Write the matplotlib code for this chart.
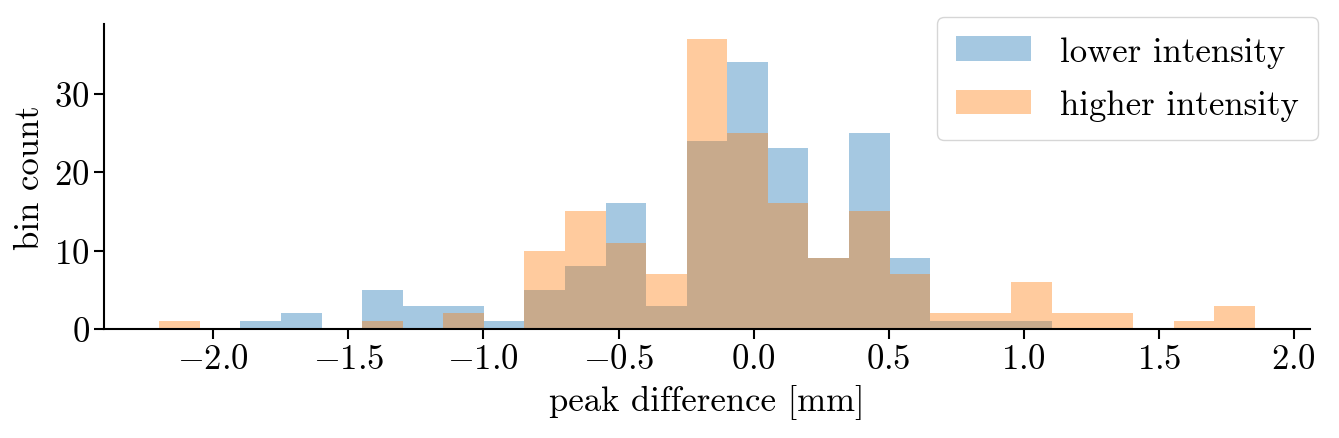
import numpy as np
import matplotlib
matplotlib.use('Agg')
import matplotlib.pyplot as plt

## histogram data (shared bins)
bin_edges = np.linspace(-2.20, 1.855, 28)
lower_counts = [0, 0, 1, 2, 0, 5, 3, 3, 1, 5, 8, 16, 3, 24, 34, 23, 9, 25, 9, 1, 1, 1, 0, 0, 0, 0, 0]
higher_counts = [1, 0, 0, 0, 0, 1, 0, 2, 0, 10, 15, 11, 7, 37, 25, 16, 9, 15, 7, 2, 2, 6, 2, 2, 0, 1, 3]
labels = ['lower intensity', 'higher intensity']

plt.rcParams['font.family'] = 'cmr10'
plt.rcParams['mathtext.fontset'] = 'cm'
plt.rcParams['axes.formatter.use_mathtext'] = True
plt.rcParams['font.size'] = 25

fig = plt.figure(figsize=(13.39, 4.39), dpi=100)
ax = fig.add_axes([0.078, 0.248, 0.900, 0.695])

ax.hist(bin_edges[:-1], bins=bin_edges, weights=lower_counts,
        color='tab:blue', alpha=0.4, label=labels[0])
ax.hist(bin_edges[:-1], bins=bin_edges, weights=higher_counts,
        color='tab:orange', alpha=0.4, label=labels[1])

ax.spines['top'].set_visible(False)
ax.spines['right'].set_visible(False)
for s in ['left', 'bottom']:
    ax.spines[s].set_linewidth(1.5)
ax.tick_params(width=1.5, length=7)

ax.set_xticks([-2.0, -1.5, -1.0, -0.5, 0.0, 0.5, 1.0, 1.5, 2.0])
ax.set_yticks([0, 10, 20, 30])
ax.set_xlabel('peak difference [mm]', labelpad=6)
ax.set_ylabel('bin count', labelpad=6)

ax.legend(loc='upper right', bbox_to_anchor=(1.007, 1.023), borderaxespad=0,
          handlelength=2.15, handletextpad=0.85, labelspacing=0.62,
          borderpad=0.55)

plt.savefig('out.png', dpi=100)
